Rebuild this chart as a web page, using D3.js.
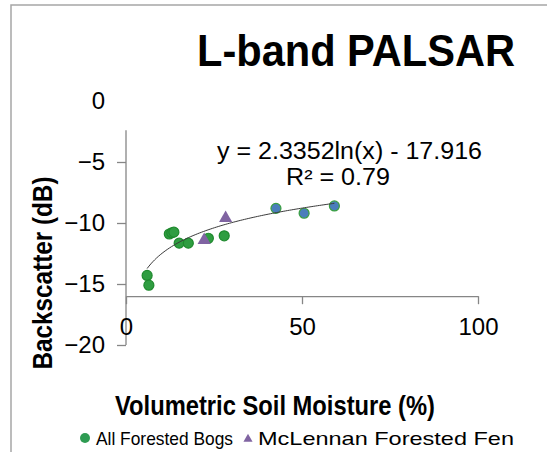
<!DOCTYPE html>
<meta charset="utf-8">
<script src="https://d3js.org/d3.v7.min.js"></script>
<style>
  body { margin: 0; background: #fff; }
  text { font-family: "Liberation Sans", Arial, sans-serif; fill: #000; }
</style>
<div id="chart"></div>
<script>
// soil moisture (%) vs backscatter (dB)
const bogX = [6.0, 6.5, 12.3, 13.0, 13.6, 15.1, 17.7, 23.4, 27.9];
const bogY = [-14.3, -15.1, -10.9, -10.8, -10.75, -11.65, -11.65, -11.25, -11.05];
const fenX = [22.2, 28.3];
const fenY = [-11.4, -9.6];
const otherX = [42.6, 50.6, 59.2];
const otherY = [-8.8, -9.2, -8.6];

const xTicks = [0, 50, 100];
const yTicks = [0, -5, -10, -15, -20];
const fitA = 2.3352, fitB = -17.916;
const equation = "y = 2.3352ln(x) - 17.916";
const rSquared = "R² = 0.79";
const legendNames = ["All Forested Bogs", "McLennan Forested Fen"];

const W = 547, H = 452;
const green = "#2f9d41", greenEdge = "#1f8a2e", blue = "#4a7ebb", purple = "#8064a2";

const svg = d3.select("#chart").append("svg")
  .attr("width", W).attr("height", H);

// outer frame (runs off the right/bottom edge)
svg.append("rect")
  .attr("x", 11).attr("y", 5).attr("width", 600).attr("height", 500)
  .attr("fill", "none").attr("stroke", "#a6a6a6").attr("stroke-width", 1.5);

const x = d3.scaleLinear().domain([0, 100]).range([126, 478]);
const y = d3.scaleLinear().domain([-20, 0]).range([345, 101]);

const axisColor = "#868686";

// y axis: line stops short of the 0 label
svg.append("line")
  .attr("x1", x(0)).attr("x2", x(0))
  .attr("y1", y(-20)).attr("y2", y(-2.4))
  .attr("stroke", axisColor).attr("stroke-width", 1.3);

const yAxis = svg.append("g")
  .attr("transform", `translate(${x(0)},0)`)
  .call(d3.axisLeft(y).tickValues(yTicks).tickSize(9).tickPadding(12));
yAxis.select(".domain").remove();
yAxis.selectAll(".tick line").attr("stroke", axisColor).attr("stroke-width", 1.3)
  .filter(d => d === 0).remove();
yAxis.selectAll(".tick text").attr("font-size", 24).attr("font-family", "Liberation Sans, Arial, sans-serif");

// x axis crosses at -16
const xAxis = svg.append("g")
  .attr("transform", `translate(0,${y(-16)})`)
  .call(d3.axisBottom(x).tickValues(xTicks).tickSize(8).tickPadding(14).tickSizeOuter(0));
xAxis.select(".domain").attr("stroke", axisColor).attr("stroke-width", 1.3);
xAxis.selectAll(".tick line").attr("stroke", axisColor).attr("stroke-width", 1.3);
xAxis.selectAll(".tick text").attr("font-size", 24).attr("font-family", "Liberation Sans, Arial, sans-serif");

// log trend line over the data range
const allX = bogX.concat(fenX, otherX);
const [xMin, xMax] = d3.extent(allX);
const fitPts = d3.range(0, 101).map(i => {
  const v = xMin + (xMax - xMin) * i / 100;
  return [v, fitA * Math.log(v) + fitB];
});

// points
svg.append("g").selectAll("circle")
  .data(bogX.map((v, i) => [v, bogY[i]]))
  .join("circle")
  .attr("cx", d => x(d[0])).attr("cy", d => y(d[1])).attr("r", 5)
  .attr("fill", green).attr("stroke", greenEdge).attr("stroke-width", 1.2);

svg.append("g").selectAll("circle")
  .data(otherX.map((v, i) => [v, otherY[i]]))
  .join("circle")
  .attr("cx", d => x(d[0])).attr("cy", d => y(d[1])).attr("r", 5)
  .attr("fill", blue).attr("stroke", "#3aa040").attr("stroke-width", 1.2);

const tri = d3.symbol().type(d3.symbolTriangle).size(75);
svg.append("g").selectAll("path")
  .data(fenX.map((v, i) => [v, fenY[i]]))
  .join("path")
  .attr("transform", d => `translate(${x(d[0])},${y(d[1])})`)
  .attr("d", tri)
  .attr("fill", purple);

svg.append("path")
  .datum(fitPts)
  .attr("d", d3.line().x(d => x(d[0])).y(d => y(d[1])))
  .attr("fill", "none").attr("stroke", "#3a3a3a").attr("stroke-width", 1);

// text
svg.append("text")
  .attr("x", 197).attr("y", 66)
  .attr("font-size", 44).attr("font-weight", "bold")
  .attr("textLength", 318).attr("lengthAdjust", "spacingAndGlyphs")
  .text("L-band PALSAR");

svg.append("text")
  .attr("x", 217).attr("y", 159)
  .attr("font-size", 23)
  .attr("textLength", 265).attr("lengthAdjust", "spacingAndGlyphs")
  .text(equation);

svg.append("text")
  .attr("x", 286).attr("y", 185)
  .attr("font-size", 23)
  .attr("textLength", 104).attr("lengthAdjust", "spacingAndGlyphs")
  .text(rSquared);

svg.append("text")
  .attr("transform", "translate(52,273) rotate(-90)")
  .attr("text-anchor", "middle")
  .attr("font-size", 27).attr("font-weight", "bold")
  .attr("textLength", 193).attr("lengthAdjust", "spacingAndGlyphs")
  .text("Backscatter (dB)");

svg.append("text")
  .attr("x", 115).attr("y", 415)
  .attr("font-size", 27).attr("font-weight", "bold")
  .attr("textLength", 320).attr("lengthAdjust", "spacingAndGlyphs")
  .text("Volumetric Soil Moisture (%)");

// legend
const leg = svg.append("g");
leg.append("circle").attr("cx", 85).attr("cy", 438).attr("r", 5).attr("fill", "#2e9b52");
leg.append("text").attr("x", 96).attr("y", 445).attr("font-size", 19)
  .attr("textLength", 137).attr("lengthAdjust", "spacingAndGlyphs")
  .text(legendNames[0]);
leg.append("path").attr("transform", "translate(248,439)")
  .attr("d", d3.symbol().type(d3.symbolTriangle).size(36)).attr("fill", purple);
leg.append("text").attr("x", 258).attr("y", 445).attr("font-size", 19)
  .attr("textLength", 256).attr("lengthAdjust", "spacingAndGlyphs")
  .text(legendNames[1]);
</script>
